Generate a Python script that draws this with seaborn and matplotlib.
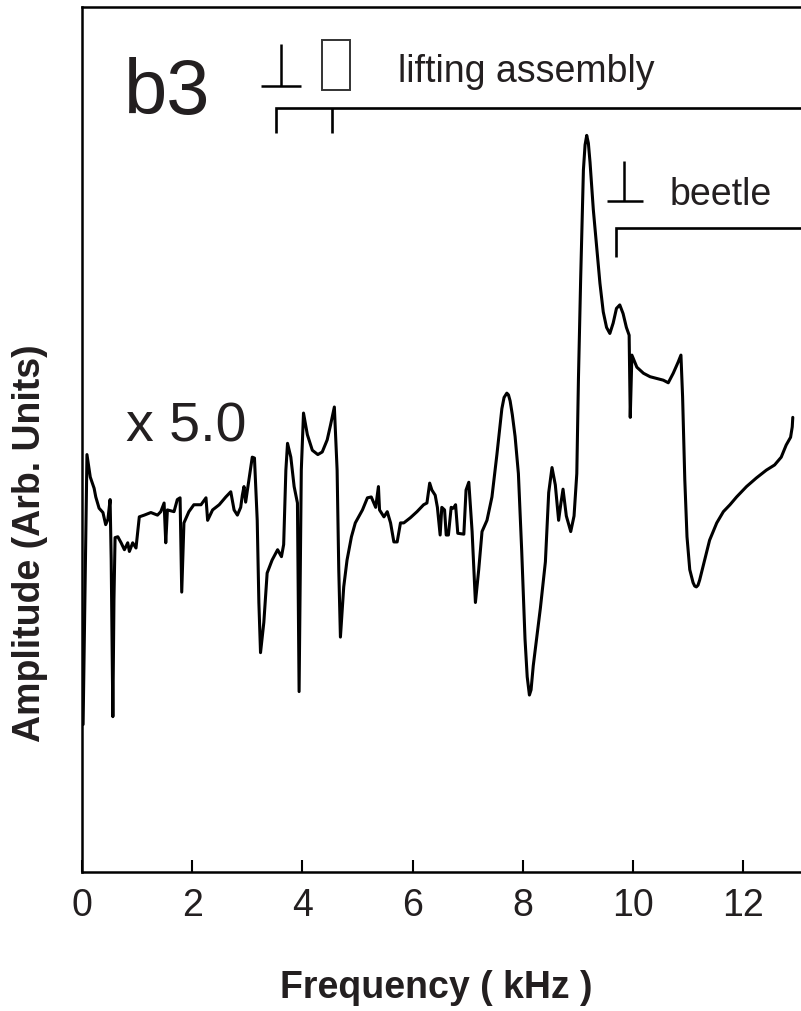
import numpy as np
import pandas as pd
import matplotlib
matplotlib.use("Agg")
import matplotlib.pyplot as plt
from matplotlib.patches import Rectangle
import seaborn as sns

# ---- data ----
freq_khz = [
    0.02, 0.09, 0.15, 0.22, 0.25, 0.31, 0.38, 0.43, 0.47, 0.51,
    0.53, 0.56, 0.58, 0.60, 0.65, 0.71, 0.77, 0.83, 0.86, 0.92,
    0.98, 1.04, 1.13, 1.25, 1.37, 1.43, 1.49, 1.52, 1.55, 1.67,
    1.73, 1.78, 1.81, 1.85, 1.94, 2.03, 2.16, 2.25, 2.28, 2.37,
    2.49, 2.61, 2.70, 2.76, 2.82, 2.88, 2.91, 2.94, 2.97, 3.03,
    3.09, 3.13, 3.18, 3.21, 3.24, 3.30, 3.36, 3.45, 3.55, 3.62,
    3.66, 3.70, 3.73, 3.79, 3.85, 3.91, 3.94, 3.98, 4.02, 4.09,
    4.18, 4.28, 4.36, 4.45, 4.51, 4.58, 4.63, 4.66, 4.69, 4.75,
    4.81, 4.89, 4.96, 5.09, 5.18, 5.25, 5.33, 5.38, 5.40, 5.48,
    5.54, 5.60, 5.66, 5.72, 5.78, 5.84, 5.96, 6.08, 6.20, 6.26,
    6.31, 6.35, 6.41, 6.45, 6.50, 6.53, 6.58, 6.61, 6.65, 6.70,
    6.74, 6.78, 6.82, 6.93, 6.97, 7.02, 7.08, 7.14, 7.20, 7.26,
    7.35, 7.44, 7.53, 7.62, 7.66, 7.71, 7.74, 7.77, 7.81, 7.86,
    7.92, 7.98, 8.04, 8.08, 8.12, 8.15, 8.19, 8.32, 8.41, 8.47,
    8.53, 8.59, 8.65, 8.69, 8.73, 8.79, 8.87, 8.93, 8.98, 9.01,
    9.05, 9.10, 9.13, 9.16, 9.19, 9.22, 9.28, 9.34, 9.40, 9.46,
    9.52, 9.58, 9.64, 9.70, 9.76, 9.82, 9.88, 9.93, 9.95, 9.98,
    10.07, 10.19, 10.31, 10.43, 10.55, 10.64, 10.73, 10.82, 10.87, 10.90,
    10.94, 10.98, 11.03, 11.09, 11.12, 11.15, 11.18, 11.21, 11.30, 11.39,
    11.52, 11.64, 11.76, 11.88, 12.06, 12.24, 12.42, 12.57, 12.69, 12.78,
    12.86, 12.89, 12.90,
]
amplitude = [
    1.70, 4.82, 4.56, 4.43, 4.33, 4.20, 4.15, 4.01, 4.07, 4.30,
    3.60, 1.79, 3.14, 3.86, 3.87, 3.80, 3.72, 3.80, 3.70, 3.80,
    3.74, 4.10, 4.12, 4.15, 4.12, 4.16, 4.26, 3.80, 4.18, 4.16,
    4.30, 4.32, 3.23, 4.03, 4.16, 4.24, 4.24, 4.32, 4.06, 4.18,
    4.24, 4.33, 4.39, 4.18, 4.12, 4.21, 4.35, 4.45, 4.27, 4.53,
    4.79, 4.78, 4.06, 3.11, 2.53, 2.88, 3.45, 3.60, 3.72, 3.64,
    3.78, 4.64, 4.95, 4.79, 4.45, 4.26, 2.08, 4.64, 5.30, 5.05,
    4.87, 4.82, 4.85, 4.99, 5.16, 5.37, 4.64, 3.49, 2.71, 3.29,
    3.60, 3.87, 4.03, 4.18, 4.32, 4.33, 4.21, 4.45, 4.18, 4.10,
    4.16, 4.03, 3.81, 3.81, 4.03, 4.03, 4.09, 4.16, 4.24, 4.26,
    4.49, 4.41, 4.35, 4.21, 3.89, 4.21, 4.18, 3.89, 3.89, 4.21,
    4.20, 4.24, 3.91, 3.90, 4.41, 4.50, 3.93, 3.11, 3.49, 3.93,
    4.06, 4.33, 4.82, 5.35, 5.48, 5.53, 5.51, 5.44, 5.28, 5.03,
    4.60, 3.71, 2.69, 2.25, 2.04, 2.10, 2.38, 3.05, 3.58, 4.38,
    4.67, 4.47, 4.06, 4.25, 4.42, 4.11, 3.93, 4.11, 4.60, 5.70,
    6.85, 8.11, 8.40, 8.51, 8.42, 8.20, 7.65, 7.22, 6.80, 6.47,
    6.29, 6.22, 6.34, 6.51, 6.55, 6.45, 6.29, 6.20, 5.25, 5.97,
    5.83, 5.76, 5.72, 5.70, 5.68, 5.65, 5.76, 5.89, 5.97, 5.49,
    4.53, 3.87, 3.49, 3.34, 3.30, 3.29, 3.31, 3.37, 3.60, 3.83,
    4.03, 4.16, 4.24, 4.33, 4.45, 4.55, 4.64, 4.70, 4.79, 4.93,
    5.02, 5.14, 5.25,
]
xtick_values = [0, 2, 4, 6, 8, 10, 12]
xtick_labels = ["0", "2", "4", "6", "8", "10", "12"]

panel_label = "b3"
scale_label = "x 5.0"
lifting_label = "lifting assembly"
beetle_label = "beetle"
x_label = "Frequency ( kHz )"
y_label = "Amplitude (Arb. Units)"

# ---- styling ----
sns.set_style("white")
plt.rcParams["font.family"] = ["Liberation Sans", "DejaVu Sans"]
ink = "#231f20"

W, H = 801, 1011
fig = plt.figure(figsize=(W / 100, H / 100), dpi=100)
ax = fig.add_axes([82 / W, (H - 871.5) / H, 1 - 82 / W, (871.5 - 6.5) / H])

df = pd.DataFrame({"freq": freq_khz, "amp": amplitude})
sns.lineplot(data=df, x="freq", y="amp", ax=ax, color="black", lw=2.2,
             sort=False, estimator=None)
for ln in ax.lines:
    ln.set_solid_joinstyle("round")

ax.set_xlim(0, (W - 82) / 55.1)
ax.set_ylim(0, 10)

for s in ["left", "bottom", "top"]:
    ax.spines[s].set_visible(True)
    ax.spines[s].set_linewidth(1.8)
    ax.spines[s].set_color("black")
ax.spines["right"].set_visible(False)

ax.set_xticks(xtick_values)
ax.set_xticklabels(xtick_labels)
ax.set_yticks([])
ax.tick_params(axis="x", direction="in", length=8.5, width=1.5, color="black",
               labelsize=27, labelcolor=ink, pad=12, bottom=True)

ax.set_xlabel(x_label, fontsize=27, fontweight="bold", color=ink)
ax.xaxis.set_label_coords((436 - 82) / (W - 82), (871.5 - 970) / 865)
ax.set_ylabel(y_label, fontsize=27, fontweight="bold", color=ink)
ax.yaxis.set_label_coords((48 - 82) / (W - 82), (871.5 - 543) / 865)

# ---- annotations ----
ax.text(0.76, 8.76, panel_label, fontsize=56, color=ink, ha="left", va="baseline")
ax.text(0.80, 4.97, scale_label, fontsize=40, color=ink, ha="left", va="baseline")
ax.text(5.74, 9.13, lifting_label, fontsize=27, color=ink, ha="left", va="baseline")
ax.text(10.67, 7.70, beetle_label, fontsize=27, color=ink, ha="left", va="baseline")

lw_a = 1.9
# lifting assembly: perpendicular symbol and box
ax.plot([3.605, 3.605], [9.57, 9.08], color="black", lw=1.8, solid_capstyle="butt")
ax.plot([3.24, 3.97], [9.08, 9.08], color="black", lw=1.8, solid_capstyle="butt")
ax.add_patch(Rectangle((4.35, 9.03), 0.51, 0.58, fill=False, edgecolor="#333333", lw=1.4))
# lifting assembly bracket
ax.plot([3.52, 3.52, 14.0], [8.54, 8.83, 8.83], color="black", lw=lw_a,
        solid_joinstyle="miter", solid_capstyle="butt")
ax.plot([4.53, 4.53], [8.54, 8.83], color="black", lw=lw_a, solid_capstyle="butt")
# beetle: perpendicular symbol and bracket
ax.plot([9.84, 9.84], [8.21, 7.75], color="black", lw=1.8, solid_capstyle="butt")
ax.plot([9.52, 10.19], [7.75, 7.75], color="black", lw=1.8, solid_capstyle="butt")
ax.plot([9.69, 9.69, 14.0], [7.10, 7.44, 7.44], color="black", lw=lw_a,
        solid_joinstyle="miter", solid_capstyle="butt")

fig.savefig("out.png", dpi=100)
